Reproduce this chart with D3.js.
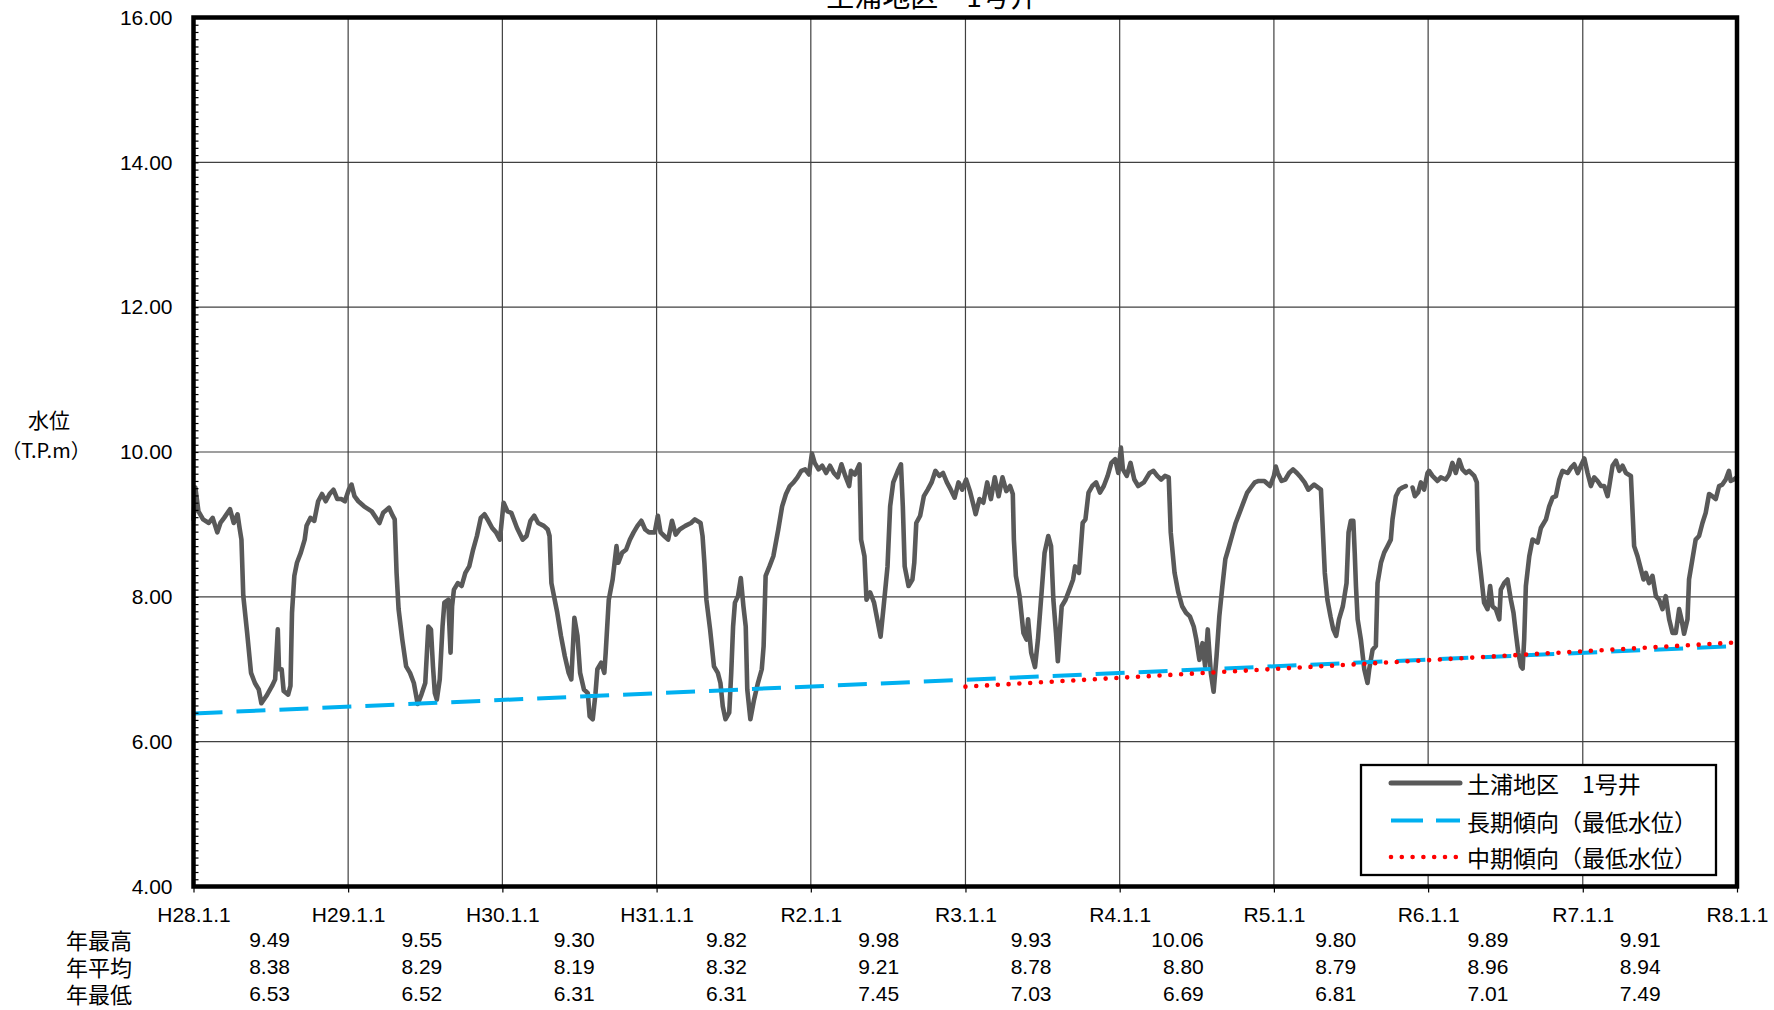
<!DOCTYPE html>
<html>
<head>
<meta charset="utf-8">
<script src="https://cdn.jsdelivr.net/npm/d3@7"></script>
<style>
  html, body { margin: 0; padding: 0; background: #fff; }
  svg { display: block; }
  .num { font-family: "Liberation Sans", Arial, sans-serif; font-size: 21px; fill: #000; }
  .jp { font-family: "Noto Sans CJK JP", sans-serif; fill: #000; }
</style>
</head>
<body>
<svg id="chart" width="1774" height="1010"></svg>
<script>
// ---------------- DATA ----------------
const chartTitle = "土浦地区　1号井";
const seriesName = "土浦地区　1号井";
const longTrendName = "長期傾向（最低水位）";
const midTrendName = "中期傾向（最低水位）";

const xTickLabels = ["H28.1.1","H29.1.1","H30.1.1","H31.1.1","R2.1.1","R3.1.1","R4.1.1","R5.1.1","R6.1.1","R7.1.1","R8.1.1"];
const xTickYears = [2016,2017,2018,2019,2020,2021,2022,2023,2024,2025,2026];
const yTickValues = [4,6,8,10,12,14,16];

const statRowLabels = ["年最高","年平均","年最低"];
const yearMax = ["9.49","9.55","9.30","9.82","9.98","9.93","10.06","9.80","9.89","9.91"];
const yearAvg = ["8.38","8.29","8.19","8.32","9.21","8.78","8.80","8.79","8.96","8.94"];
const yearMin = ["6.53","6.52","6.31","6.31","7.45","7.03","6.69","6.81","7.01","7.49"];

const longTrendYears = [2016.0, 2026.0];
const longTrendLevels = [6.39, 7.32];
const midTrendYears = [2021.0, 2026.0];
const midTrendLevels = [6.76, 7.37];

// [decimal year, water level T.P.m]  (null = missing)
const levelSeries = [
[2016.000,9.07],[2016.012,9.51],[2016.032,9.18],[2016.062,9.07],[2016.099,9.02],[2016.124,9.09],[2016.154,8.89],[2016.174,9.02],
[2016.198,9.09],[2016.236,9.21],[2016.260,9.02],[2016.285,9.14],[2016.298,8.95],[2016.310,8.79],[2016.322,8.01],[2016.347,7.50],
[2016.372,6.95],[2016.397,6.81],[2016.422,6.72],[2016.439,6.53],[2016.471,6.63],[2016.508,6.77],[2016.528,6.86],[2016.545,7.55],
[2016.553,7.00],[2016.570,7.00],[2016.583,6.70],[2016.612,6.65],[2016.627,6.77],[2016.637,7.78],[2016.652,8.29],[2016.669,8.47],
[2016.694,8.61],[2016.719,8.79],[2016.731,8.98],[2016.756,9.09],[2016.781,9.05],[2016.806,9.32],[2016.831,9.42],[2016.855,9.32],
[2016.880,9.42],[2016.905,9.48],[2016.930,9.35],[2016.955,9.35],[2016.979,9.32],[2017.004,9.48],[2017.022,9.55],[2017.041,9.39],
[2017.066,9.32],[2017.103,9.25],[2017.153,9.18],[2017.203,9.02],[2017.227,9.16],[2017.265,9.23],[2017.289,9.12],[2017.302,9.07],
[2017.314,8.33],[2017.327,7.83],[2017.351,7.41],[2017.376,7.04],[2017.401,6.95],[2017.426,6.81],[2017.451,6.52],[2017.475,6.65],
[2017.500,6.81],[2017.520,7.59],[2017.537,7.55],[2017.550,7.04],[2017.562,6.67],[2017.575,6.58],[2017.594,6.86],[2017.612,7.59],
[2017.624,7.92],[2017.649,7.96],[2017.664,7.23],[2017.674,7.87],[2017.686,8.10],[2017.711,8.19],[2017.736,8.15],[2017.760,8.33],
[2017.785,8.42],[2017.810,8.65],[2017.835,8.84],[2017.860,9.09],[2017.884,9.14],[2017.909,9.05],[2017.934,8.95],[2017.959,8.89],
[2017.984,8.79],[2018.008,9.30],[2018.033,9.18],[2018.058,9.16],[2018.095,8.95],[2018.132,8.79],[2018.157,8.84],[2018.182,9.05],
[2018.207,9.12],[2018.232,9.02],[2018.269,8.98],[2018.294,8.93],[2018.306,8.84],[2018.318,8.19],[2018.356,7.78],[2018.380,7.46],
[2018.405,7.18],[2018.430,6.95],[2018.447,6.86],[2018.467,7.71],[2018.487,7.46],[2018.504,6.95],[2018.529,6.72],[2018.554,6.67],
[2018.566,6.35],[2018.586,6.31],[2018.604,6.67],[2018.616,7.00],[2018.641,7.09],[2018.661,6.95],[2018.670,7.23],[2018.690,7.96],
[2018.715,8.24],[2018.740,8.70],[2018.752,8.47],[2018.777,8.61],[2018.802,8.65],[2018.827,8.79],[2018.851,8.89],[2018.876,8.98],
[2018.901,9.05],[2018.926,8.93],[2018.951,8.89],[2018.988,8.89],[2019.008,9.12],[2019.026,8.89],[2019.050,8.84],[2019.075,8.79],
[2019.100,9.05],[2019.124,8.86],[2019.149,8.93],[2019.186,8.98],[2019.223,9.02],[2019.248,9.07],[2019.285,9.02],[2019.298,8.84],
[2019.310,8.47],[2019.323,7.96],[2019.347,7.55],[2019.372,7.04],[2019.397,6.95],[2019.414,6.81],[2019.429,6.49],[2019.447,6.31],
[2019.471,6.40],[2019.484,6.95],[2019.496,7.59],[2019.508,7.92],[2019.528,8.01],[2019.546,8.26],[2019.563,7.87],[2019.578,7.59],
[2019.588,6.72],[2019.608,6.31],[2019.632,6.58],[2019.657,6.81],[2019.682,7.00],[2019.694,7.32],[2019.707,8.29],[2019.732,8.42],
[2019.757,8.56],[2019.789,8.93],[2019.814,9.25],[2019.839,9.42],[2019.864,9.53],[2019.888,9.58],[2019.913,9.65],[2019.938,9.74],
[2019.963,9.76],[2019.988,9.69],[2020.007,9.98],[2020.025,9.85],[2020.050,9.76],[2020.074,9.81],[2020.099,9.71],[2020.124,9.81],
[2020.149,9.71],[2020.174,9.65],[2020.198,9.83],[2020.223,9.67],[2020.248,9.53],[2020.260,9.74],[2020.285,9.69],[2020.315,9.83],
[2020.325,8.79],[2020.347,8.56],[2020.360,7.96],[2020.384,8.06],[2020.409,7.92],[2020.434,7.64],[2020.451,7.45],[2020.471,7.87],
[2020.496,8.42],[2020.513,9.25],[2020.533,9.58],[2020.563,9.74],[2020.583,9.83],[2020.595,9.25],[2020.607,8.42],[2020.632,8.15],
[2020.657,8.24],[2020.669,8.47],[2020.682,9.02],[2020.707,9.12],[2020.731,9.39],[2020.756,9.48],[2020.781,9.58],[2020.806,9.74],
[2020.831,9.67],[2020.855,9.71],[2020.880,9.58],[2020.905,9.48],[2020.930,9.37],[2020.955,9.58],[2020.979,9.48],[2021.004,9.62],
[2021.029,9.46],[2021.054,9.25],[2021.066,9.14],[2021.091,9.35],[2021.116,9.30],[2021.141,9.58],[2021.165,9.35],[2021.190,9.65],
[2021.215,9.39],[2021.240,9.65],[2021.265,9.46],[2021.289,9.53],[2021.307,9.42],[2021.314,8.79],[2021.327,8.29],[2021.351,8.01],
[2021.376,7.50],[2021.396,7.41],[2021.406,7.69],[2021.426,7.23],[2021.451,7.03],[2021.470,7.41],[2021.495,8.10],[2021.513,8.61],
[2021.537,8.84],[2021.555,8.70],[2021.570,7.96],[2021.587,7.50],[2021.599,7.11],[2021.624,7.87],[2021.649,7.96],[2021.674,8.10],
[2021.698,8.24],[2021.711,8.42],[2021.736,8.33],[2021.760,9.02],[2021.778,9.07],[2021.798,9.44],[2021.822,9.53],[2021.847,9.58],
[2021.872,9.44],[2021.897,9.53],[2021.922,9.67],[2021.946,9.85],[2021.971,9.90],[2021.991,9.71],[2022.008,10.06],[2022.021,9.76],
[2022.046,9.67],[2022.070,9.85],[2022.095,9.62],[2022.120,9.53],[2022.157,9.58],[2022.194,9.71],[2022.219,9.74],[2022.244,9.67],
[2022.269,9.62],[2022.294,9.67],[2022.318,9.65],[2022.331,8.89],[2022.356,8.33],[2022.380,8.06],[2022.405,7.87],[2022.430,7.78],
[2022.455,7.73],[2022.480,7.59],[2022.497,7.41],[2022.517,7.13],[2022.537,7.36],[2022.554,7.04],[2022.571,7.55],[2022.591,6.95],
[2022.609,6.69],[2022.628,7.18],[2022.646,7.73],[2022.666,8.15],[2022.685,8.52],[2022.703,8.65],[2022.728,8.84],[2022.752,9.02],
[2022.777,9.16],[2022.802,9.30],[2022.827,9.44],[2022.851,9.51],[2022.876,9.58],[2022.901,9.60],[2022.938,9.60],[2022.975,9.53],
[2023.000,9.67],[2023.012,9.80],[2023.025,9.71],[2023.050,9.60],[2023.074,9.62],[2023.099,9.71],[2023.124,9.76],[2023.149,9.71],
[2023.174,9.65],[2023.199,9.58],[2023.223,9.48],[2023.261,9.55],[2023.305,9.48],[2023.315,9.02],[2023.330,8.33],[2023.347,7.96],
[2023.367,7.73],[2023.385,7.55],[2023.404,7.46],[2023.422,7.69],[2023.447,7.87],[2023.471,8.19],[2023.484,8.89],[2023.499,9.05],
[2023.515,9.05],[2023.524,8.61],[2023.532,8.15],[2023.543,7.69],[2023.564,7.41],[2023.586,7.00],[2023.607,6.81],[2023.618,7.00],
[2023.640,7.27],[2023.661,7.32],[2023.672,8.19],[2023.694,8.47],[2023.715,8.61],[2023.737,8.70],[2023.758,8.79],[2023.769,9.07],
[2023.791,9.39],[2023.812,9.48],[2023.834,9.51],[2023.855,9.53],[2023.877,null],[2023.899,9.51],[2023.914,9.39],[2023.935,9.44],
[2023.953,9.58],[2023.974,9.48],[2023.996,9.71],[2024.006,9.74],[2024.028,9.67],[2024.060,9.60],[2024.082,9.65],[2024.114,9.62],
[2024.136,9.69],[2024.157,9.85],[2024.179,9.71],[2024.201,9.89],[2024.222,9.76],[2024.244,9.71],[2024.265,9.74],[2024.298,9.67],
[2024.315,9.58],[2024.324,8.65],[2024.341,8.33],[2024.362,7.92],[2024.384,7.83],[2024.401,8.15],[2024.416,7.87],[2024.438,7.83],
[2024.460,7.69],[2024.470,8.10],[2024.492,8.19],[2024.513,8.24],[2024.535,7.96],[2024.552,7.78],[2024.567,7.50],[2024.583,7.23],
[2024.600,7.04],[2024.611,7.01],[2024.621,7.41],[2024.632,8.15],[2024.654,8.56],[2024.675,8.79],[2024.708,8.75],[2024.729,8.95],
[2024.762,9.07],[2024.783,9.25],[2024.805,9.37],[2024.826,9.39],[2024.848,9.62],[2024.869,9.74],[2024.902,9.71],[2024.923,9.78],
[2024.945,9.83],[2024.967,9.71],[2024.988,9.81],[2025.010,9.91],[2025.031,9.71],[2025.053,9.53],[2025.074,9.65],[2025.096,9.60],
[2025.118,9.53],[2025.139,9.53],[2025.161,9.39],[2025.172,9.53],[2025.193,9.81],[2025.215,9.88],[2025.237,9.74],[2025.258,9.81],
[2025.280,9.71],[2025.312,9.67],[2025.323,9.16],[2025.333,8.70],[2025.355,8.56],[2025.377,8.38],[2025.394,8.24],[2025.409,8.33],
[2025.430,8.19],[2025.452,8.29],[2025.474,8.01],[2025.495,7.96],[2025.517,7.83],[2025.538,8.01],[2025.560,7.69],[2025.582,7.50],
[2025.603,7.50],[2025.625,7.83],[2025.640,7.69],[2025.657,7.49],[2025.679,7.69],[2025.689,8.24],[2025.711,8.52],[2025.732,8.79],
[2025.754,8.84],[2025.776,9.02],[2025.797,9.16],[2025.819,9.42],[2025.840,9.39],[2025.862,9.35],[2025.884,9.53],[2025.905,9.55],
[2025.927,9.62],[2025.948,9.74],[2025.959,9.60],[2025.980,9.62],[2025.998,9.65]
];

// ---------------- LAYOUT ----------------
const plot = { left: 193.5, right: 1737, top: 17.5, bottom: 886.5 };

function yearToDate(yr) {
  const Y = Math.floor(yr);
  const s = Date.UTC(Y, 0, 1), e = Date.UTC(Y + 1, 0, 1);
  return new Date(s + (yr - Y) * (e - s));
}

const x = d3.scaleUtc()
  .domain([yearToDate(2016), yearToDate(2026)])
  .range([plot.left, plot.right]);
const y = d3.scaleLinear().domain([4, 16]).range([plot.bottom, plot.top]);

const svg = d3.select("#chart");

// gridlines
const grid = svg.append("g").attr("stroke", "#404040").attr("stroke-width", 1.2);
grid.selectAll("line.h").data(yTickValues.slice(1, -1)).join("line")
  .attr("x1", plot.left).attr("x2", plot.right)
  .attr("y1", d => y(d)).attr("y2", d => y(d));
grid.selectAll("line.v").data(xTickYears.slice(1, -1)).join("line")
  .attr("y1", plot.top).attr("y2", plot.bottom)
  .attr("x1", d => x(yearToDate(d))).attr("x2", d => x(yearToDate(d)));

// title (partly clipped at top as in the original)
svg.append("text").attr("class", "jp")
  .attr("x", 932).attr("y", 7)
  .attr("text-anchor", "middle")
  .style("font-size", "28px")
  .text(chartTitle);

// water level line
const line = d3.line()
  .defined(d => d[1] !== null)
  .x(d => x(yearToDate(d[0])))
  .y(d => y(d[1]));

svg.append("path").datum(levelSeries)
  .attr("d", line)
  .attr("fill", "none")
  .attr("stroke", "#595959")
  .attr("stroke-width", 4.6)
  .attr("stroke-linejoin", "round")
  .attr("stroke-linecap", "round");

// trend lines
const longTrend = longTrendYears.map((t, i) => [t, longTrendLevels[i]]);
const midTrend = midTrendYears.map((t, i) => [t, midTrendLevels[i]]);

svg.append("path").datum(longTrend)
  .attr("d", line).attr("fill", "none")
  .attr("stroke", "#00B0F0").attr("stroke-width", 4)
  .attr("stroke-dasharray", "29 14");

svg.append("path").datum(midTrend)
  .attr("d", line).attr("fill", "none")
  .attr("stroke", "#FF0000").attr("stroke-width", 4.6)
  .attr("stroke-linecap", "round")
  .attr("stroke-dasharray", "0 10.8");

// minor ticks on left axis (inside)
const minorVals = d3.range(40, 161).map(v => v / 10);
const minorAxis = d3.axisRight(y).tickValues(minorVals).tickSize(5).tickFormat("");
const gMinor = svg.append("g").attr("transform", `translate(${plot.left},0)`).call(minorAxis);
gMinor.select(".domain").remove();
gMinor.selectAll("line").attr("stroke", "#000").attr("stroke-width", 1.2);

// y axis labels
const yAxis = d3.axisLeft(y).tickValues(yTickValues).tickFormat(d3.format(".2f")).tickSize(0).tickPadding(21);
const gY = svg.append("g").attr("transform", `translate(${plot.left},0)`).call(yAxis);
gY.select(".domain").remove();
gY.selectAll("text").attr("class", "num").attr("font-size", null).attr("font-family", null);

// x axis
const xAxis = d3.axisBottom(x)
  .tickValues(xTickYears.map(yearToDate))
  .tickFormat((d, i) => xTickLabels[i])
  .tickSize(6).tickPadding(15);
const gX = svg.append("g").attr("transform", `translate(0,${plot.bottom})`).call(xAxis);
gX.select(".domain").remove();
gX.selectAll("line").attr("stroke", "#000").attr("stroke-width", 1.2);
gX.selectAll("text").attr("class", "num").attr("font-size", null).attr("font-family", null);

// plot frame
svg.append("rect")
  .attr("x", plot.left).attr("y", plot.top)
  .attr("width", plot.right - plot.left).attr("height", plot.bottom - plot.top)
  .attr("fill", "none").attr("stroke", "#000").attr("stroke-width", 4.5);

// y axis title
svg.append("text").attr("class", "jp").attr("x", 49).attr("y", 419)
  .attr("text-anchor", "middle").attr("dominant-baseline", "central")
  .style("font-size", "21px").text("水位");
svg.append("text").attr("class", "jp").attr("x", 46).attr("y", 449)
  .attr("text-anchor", "middle").attr("dominant-baseline", "central")
  .style("font-size", "20px").text("（T.P.m）");

// legend
const legend = svg.append("g");
legend.append("rect")
  .attr("x", 1361).attr("y", 765).attr("width", 355).attr("height", 110)
  .attr("fill", "#fff").attr("stroke", "#000").attr("stroke-width", 2.3);
const legendItems = [
  { name: seriesName, color: "#595959", dash: null, width: 5, cap: "round" },
  { name: longTrendName, color: "#00B0F0", dash: "32 13", width: 4, cap: "butt" },
  { name: midTrendName, color: "#FF0000", dash: "0 10.8", width: 4.6, cap: "round" }
];
const legendRowY = [783, 820.5, 857];
legendItems.forEach((it, i) => {
  legend.append("line")
    .attr("x1", 1391).attr("x2", 1460)
    .attr("y1", legendRowY[i]).attr("y2", legendRowY[i])
    .attr("stroke", it.color).attr("stroke-width", it.width)
    .attr("stroke-linecap", it.cap)
    .attr("stroke-dasharray", it.dash);
  legend.append("text").attr("class", "jp")
    .attr("x", 1467).attr("y", legendRowY[i])
    .attr("dominant-baseline", "central")
    .style("font-size", "23px").text(it.name);
});

// statistics table below the axis
const statRows = [yearMax, yearAvg, yearMin];
const statRowY = [939, 966, 993];
statRowLabels.forEach((lab, r) => {
  svg.append("text").attr("class", "jp")
    .attr("x", 66).attr("y", statRowY[r])
    .attr("dominant-baseline", "central")
    .style("font-size", "22px").text(lab);
  svg.selectAll(null).data(statRows[r]).join("text")
    .attr("class", "num")
    .attr("x", (d, i) => 290 + 152.3 * i)
    .attr("y", statRowY[r])
    .attr("text-anchor", "end")
    .attr("dominant-baseline", "central")
    .text(d => d);
});
</script>
</body>
</html>
